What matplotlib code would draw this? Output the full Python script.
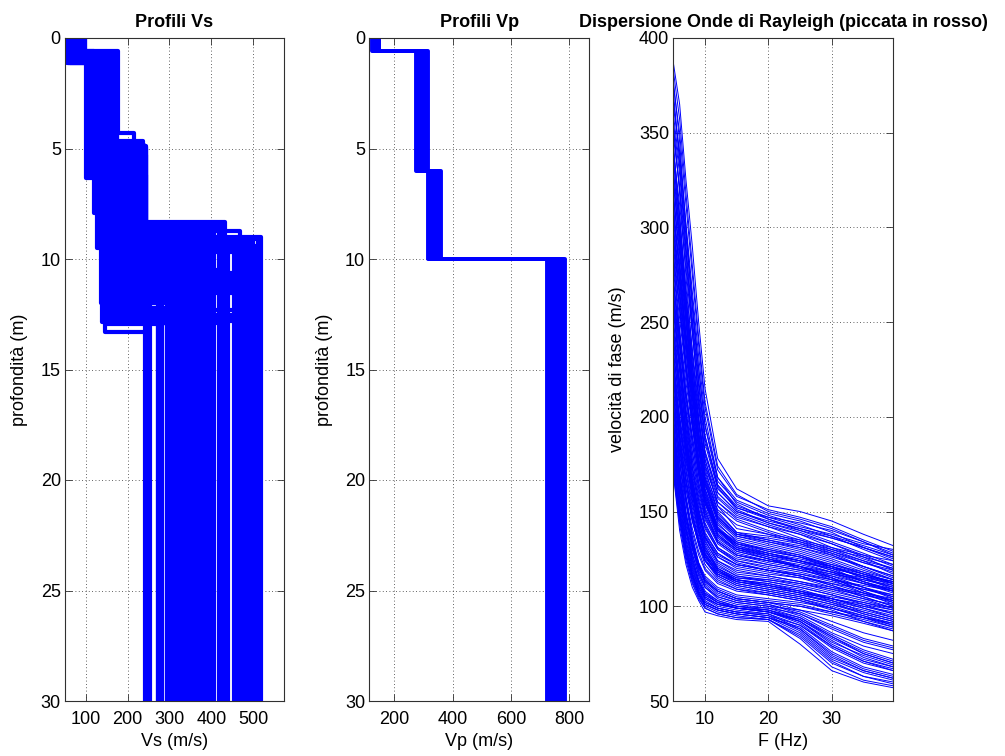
import matplotlib
matplotlib.use("Agg")
import matplotlib.pyplot as plt
import numpy as np

# ---------------- Vs profiles (m/s) and interface depths (m) ----------------
vs1 = [62, 95, 80, 88, 70, 58, 75, 90, 84, 66, 99, 78, 60, 93, 72, 86, 68, 97, 64, 82,
       74, 91, 57, 79, 87, 69, 95, 63, 77, 85, 71, 89, 61, 94, 76, 83, 67, 92, 73, 81,
       59, 96, 65, 90, 72, 85, 61, 93, 79, 68, 88, 56, 98, 74, 81, 66, 91, 70, 86, 63,
       95, 76, 83, 58, 92, 73, 80, 67, 89, 62,
       87, 64, 93, 71, 84, 60, 97, 78, 69, 90, 75, 82, 66, 94, 73, 86, 63, 91, 77, 81,
       70, 88, 65, 96, 77, 83, 60, 92, 74, 86, 68, 94, 79, 63, 90, 72]
z1 = [1.13, 0.60, 0.75, 0.70, 0.95, 1.10, 0.85, 0.65, 0.80, 1.00, 0.62, 0.90, 1.05, 0.68,
      0.88, 0.72, 0.98, 0.64, 1.08, 0.78, 0.92, 0.66, 1.12, 0.82, 0.74, 0.96, 0.63, 1.06,
      0.86, 0.76, 0.93, 0.71, 1.09, 0.67, 0.87, 0.79, 0.99, 0.69, 0.91, 0.81,
      1.02, 0.61, 0.97, 0.70, 0.89, 0.77, 1.04, 0.65, 0.83, 0.94, 0.73, 1.11, 0.62, 0.88,
      0.80, 0.97, 0.68, 0.92, 0.75, 1.03, 0.64, 0.86, 0.78, 1.10, 0.67, 0.90, 0.81, 0.95,
      0.72, 1.05,
      0.74, 1.00, 0.66, 0.92, 0.79, 1.07, 0.63, 0.84, 0.95, 0.70, 0.88, 0.80, 0.98, 0.65,
      0.90, 0.76, 1.04, 0.68, 0.85, 0.81,
      0.94, 0.73, 1.01, 0.62, 0.84, 0.78, 1.06, 0.67, 0.89, 0.75, 0.97, 0.65, 0.82, 1.04,
      0.70, 0.91]
vs2 = [101, 178, 172, 168, 110, 115, 125, 160, 150, 105, 175, 140, 130, 165, 120, 145, 135,
       170, 108, 155, 118, 162, 112, 148, 138, 128, 158, 122, 142, 132, 126, 166, 116, 174,
       132, 156, 124, 164, 136, 146,
       104, 120, 113, 127, 133, 139, 117, 144, 151, 123, 157, 109, 163, 129, 147, 119, 159,
       134, 153, 114, 169, 137, 149, 107, 161, 131, 143, 121, 154, 111,
       141, 117, 167, 126, 152, 112, 171, 139, 129, 159, 134, 146, 122, 165, 131, 149, 115,
       161, 137, 144,
       128, 150, 119, 170, 136, 147, 111, 163, 132, 153, 124, 167, 141, 116, 157, 134]
z2 = [6.35, 4.30, 4.65, 4.90, 6.00, 5.90, 5.50, 5.00, 5.20, 6.20, 4.95, 5.40, 5.80, 4.80,
      6.10, 5.30, 5.60, 4.70, 6.30, 5.10, 5.95, 4.95, 6.05, 5.25, 5.45, 5.70, 5.05, 5.85,
      5.35, 5.15, 5.65, 4.85, 6.15, 5.00, 5.55, 5.08, 5.75, 4.92, 5.50, 5.28,
      6.25, 5.90, 6.10, 5.70, 5.50, 5.40, 6.00, 5.30, 5.20, 5.80, 5.10, 6.30, 4.95, 5.60,
      5.25, 5.90, 5.05, 5.55, 5.15, 6.05, 4.75, 5.45, 5.20, 6.20, 5.00, 5.60, 5.35, 5.85,
      5.12, 6.10,
      5.30, 6.00, 4.90, 5.70, 5.20, 6.20, 4.85, 5.40, 5.65, 5.05, 5.55, 5.30, 5.80, 4.95,
      5.60, 5.22, 6.10, 5.02, 5.48, 5.32,
      5.70, 5.20, 5.90, 4.90, 5.50, 5.25, 6.15, 5.00, 5.60, 5.15, 5.75, 4.95, 5.40, 6.05,
      5.10, 5.55]
vs3 = [121, 216, 236, 244, 136, 142, 147, 230, 225, 128, 240, 155, 160, 210, 165, 170, 175,
       180, 185, 190, 195, 200, 205, 212, 218, 222, 228, 232, 238, 152, 168, 234, 178, 242,
       188, 198, 208, 220, 226, 214,
       140, 146, 150, 154, 158, 162, 166, 171, 176, 181, 186, 191, 196, 201, 206, 211, 215,
       219, 223, 227, 231, 235, 239, 243, 145, 157, 173, 193, 209, 237,
       203, 241, 229, 217, 233, 207, 239, 221, 213, 235, 226, 243, 219, 231, 224, 237, 211,
       228, 216, 222,
       236, 242, 231, 240, 228, 238, 233, 243, 226, 239, 230, 244, 235, 227, 241, 232]
z3 = [7.90, 9.30, 8.90, 8.34, 12.0, 12.8, 13.3, 8.75, 9.00, 9.50, 9.20, 12.7, 12.5, 9.40,
      8.80, 9.60, 8.50, 9.10, 8.70, 10.1, 8.60, 9.00, 8.45, 9.50, 8.80, 10.3, 9.80, 8.50,
      9.20, 8.70, 8.55, 8.60, 9.30, 9.40, 9.10, 9.50, 9.20, 9.70, 9.30, 9.60,
      12.85, 12.6, 12.95, 12.3, 12.8, 12.45, 12.9, 12.7, 12.2, 12.85, 12.5, 12.75, 12.35,
      12.9, 12.6, 12.8, 12.4, 12.85, 12.65, 12.9, 12.3, 12.7, 12.55, 12.8, 11.5, 11.0, 10.8,
      11.3, 10.6, 11.8,
      8.40, 8.45, 8.50, 8.42, 8.55, 8.48, 8.60, 8.44, 8.52, 8.58, 8.46, 8.40, 8.62, 8.50,
      8.56, 8.44, 9.05, 9.15, 9.25, 9.10,
      9.70, 9.90, 10.05, 10.2, 10.35, 10.5, 10.65, 10.8, 10.95, 11.1, 11.25, 11.4, 11.55,
      11.7, 11.85, 12.0]
vs4 = [242, 343, 383, 432, 295.3, 279, 250, 468, 517.2, 254.7, 500, 271.8, 282.2, 508, 300,
       303, 311, 319, 327, 335, 340, 351, 359, 367, 370, 375, 391, 395, 399, 405.2, 417.8,
       425, 438.7, 452.8, 460, 476, 480, 484, 492, 505,
       246, 252, 276, 280, 298, 307, 315, 323, 331, 338, 347, 355, 363, 379, 387, 400, 403,
       421, 428, 435, 458, 464, 472, 488, 496, 512, 250, 278, 310, 330,
       272, 277, 282, 298, 307, 315, 323, 331, 347, 355, 363, 379, 387, 400, 421, 428, 456,
       488, 496, 512,
       320, 345, 372, 390, 398, 425, 460, 470, 482, 498, 503, 510, 515, 335, 360, 385]

# ---------------- Vp profiles (m/s), interfaces at fixed depths ----------------
vp_depths = [0.6, 6.0, 10.0]
vp1 = [134, 146, 128, 141, 148, 137, 124, 144, 139, 147, 131, 142]
vp2 = [290, 307, 279, 300, 315, 286, 275, 311, 297, 304, 282, 293]
vp3 = [331, 353, 318, 344, 361, 327, 314, 357, 340, 348, 322, 335]
vp4 = [745, 773, 729, 762, 784, 740, 723, 778, 756, 767, 734, 751]

max_depth = 30

# ---------------- Rayleigh dispersion curves (phase velocity, m/s) ----------------
freq_hz = [5, 6, 7, 8, 9, 10, 12, 15, 20, 25, 30, 35, 39.7]

disp_fast = [
    [387, 365, 325, 290, 250, 215, 178, 162, 153, 150, 145, 138, 132],
    [375, 350, 312, 275, 238, 205, 172, 158, 151, 147, 142, 135, 129],
    [360, 332, 295, 258, 225, 195, 166, 155, 148, 143, 137, 130, 124],
    [340, 312, 278, 244, 212, 186, 162, 152, 146, 140, 134, 128, 122],
    [322, 295, 262, 232, 204, 180, 158, 149, 143, 138, 131, 125, 120],
    [305, 280, 250, 222, 196, 174, 155, 146, 140, 135, 129, 123, 118],
    [352, 320, 282, 245, 210, 182, 160, 150, 145, 141, 137, 132, 127],
    [290, 265, 238, 212, 188, 168, 151, 143, 138, 133, 127, 120, 114],
    [330, 300, 262, 228, 198, 175, 155, 147, 142, 138, 133, 127, 121],
    [368, 338, 298, 258, 220, 190, 164, 152, 147, 144, 140, 134, 128],
    [383, 357, 318, 280, 242, 208, 174, 159, 150, 146, 141, 134, 127],
    [364, 340, 302, 266, 232, 200, 168, 154, 146, 141, 136, 131, 126],
    [348, 322, 286, 250, 216, 188, 163, 151, 144, 139, 133, 126, 119],
    [335, 305, 268, 236, 206, 181, 160, 150, 144, 140, 136, 131, 126],
    [315, 288, 256, 226, 199, 177, 157, 148, 142, 136, 130, 124, 117],
    [378, 345, 300, 262, 226, 196, 168, 156, 149, 145, 139, 131, 125],
    [298, 272, 244, 217, 192, 171, 153, 145, 139, 134, 128, 121, 116],
    [356, 328, 290, 252, 218, 190, 164, 153, 147, 142, 138, 133, 130],
]
disp_upper_mid = [
    [330, 296, 258, 222, 192, 168, 148, 138, 134, 130, 125, 119, 114],
    [300, 272, 240, 210, 185, 164, 146, 137, 133, 129, 124, 118, 112],
    [355, 318, 274, 234, 200, 173, 150, 139, 135, 132, 128, 123, 119],
    [285, 258, 228, 201, 178, 159, 143, 135, 131, 127, 121, 115, 109],
    [318, 286, 250, 216, 188, 166, 147, 138, 136, 133, 129, 124, 120],
    [270, 245, 218, 194, 173, 156, 141, 134, 130, 126, 120, 113, 108],
    [342, 306, 265, 228, 196, 170, 149, 139, 137, 134, 130, 126, 122],
    [295, 266, 234, 206, 182, 162, 145, 136, 132, 128, 123, 117, 113],
    [372, 334, 288, 246, 208, 178, 153, 141, 138, 135, 131, 127, 124],
    [262, 238, 212, 190, 170, 154, 140, 133, 130, 127, 122, 117, 112],
    [308, 278, 244, 213, 186, 165, 146, 137, 134, 131, 126, 121, 116],
    [326, 292, 254, 219, 190, 167, 147, 138, 135, 131, 127, 121, 115],
]
disp_mid = [
    [280, 252, 222, 196, 174, 156, 140, 132, 128, 124, 119, 113, 108],
    [265, 238, 210, 186, 166, 150, 136, 129, 125, 122, 118, 113, 109],
    [310, 275, 238, 205, 178, 158, 140, 131, 126, 123, 120, 116, 112],
    [250, 225, 200, 178, 160, 146, 133, 126, 122, 119, 115, 110, 105],
    [295, 262, 228, 198, 174, 155, 138, 130, 126, 121, 115, 108, 102],
    [240, 215, 190, 170, 154, 141, 130, 124, 121, 118, 114, 110, 106],
    [345, 305, 262, 222, 190, 165, 144, 134, 129, 126, 122, 118, 114],
    [228, 205, 183, 164, 149, 137, 127, 122, 119, 116, 111, 105, 100],
    [272, 240, 208, 182, 162, 147, 134, 127, 123, 120, 117, 114, 111],
    [218, 196, 176, 159, 145, 134, 124, 119, 116, 113, 109, 104, 99],
    [318, 282, 243, 210, 182, 160, 141, 132, 127, 123, 118, 112, 107],
    [258, 228, 198, 174, 156, 142, 130, 123, 119, 116, 112, 107, 103],
    [235, 208, 183, 163, 148, 136, 126, 120, 117, 115, 112, 109, 106],
    [300, 265, 228, 196, 170, 151, 134, 127, 124, 121, 116, 110, 104],
    [285, 256, 225, 199, 177, 158, 141, 133, 129, 126, 121, 115, 110],
    [270, 242, 213, 189, 169, 152, 137, 130, 127, 124, 120, 116, 113],
    [325, 290, 250, 214, 184, 161, 141, 131, 127, 124, 121, 117, 113],
    [255, 229, 203, 181, 163, 148, 134, 127, 124, 121, 117, 112, 108],
    [290, 258, 225, 196, 172, 154, 137, 129, 125, 120, 114, 107, 101],
    [245, 219, 194, 173, 156, 143, 131, 125, 122, 119, 116, 112, 109],
    [338, 298, 255, 217, 186, 162, 142, 133, 128, 124, 119, 114, 110],
    [232, 209, 186, 167, 151, 139, 128, 122, 119, 116, 111, 106, 102],
    [278, 246, 213, 186, 165, 149, 135, 128, 124, 121, 118, 115, 112],
    [222, 200, 179, 161, 147, 136, 126, 121, 118, 115, 110, 105, 100],
    [305, 270, 234, 202, 176, 156, 138, 130, 125, 121, 115, 108, 103],
    [262, 232, 202, 177, 158, 144, 131, 124, 120, 117, 113, 109, 105],
    [238, 212, 187, 166, 150, 138, 128, 122, 119, 117, 114, 111, 108],
    [312, 278, 240, 206, 178, 157, 139, 131, 128, 125, 121, 116, 111],
]
disp_lower_mid = [
    [235, 206, 178, 156, 140, 129, 120, 115, 113, 110, 106, 101, 96],
    [248, 216, 185, 161, 143, 131, 121, 116, 114, 111, 107, 103, 99],
    [222, 196, 172, 152, 137, 127, 119, 114, 112, 109, 104, 99, 94],
    [275, 236, 198, 169, 149, 135, 123, 117, 115, 112, 108, 104, 101],
    [212, 188, 166, 148, 135, 126, 118, 114, 112, 108, 103, 97, 93],
    [258, 224, 191, 165, 146, 133, 122, 116, 113, 110, 106, 102, 98],
    [242, 212, 182, 159, 142, 130, 120, 115, 114, 112, 109, 106, 103],
    [228, 200, 174, 154, 139, 128, 119, 114, 111, 107, 102, 96, 92],
    [285, 244, 204, 173, 152, 137, 124, 118, 116, 113, 110, 107, 104],
    [205, 182, 162, 145, 133, 124, 117, 113, 111, 108, 104, 100, 96],
]
disp_slow = [
    [210, 185, 162, 145, 133, 124, 116, 111, 108, 105, 101, 96, 92],
    [200, 176, 155, 139, 127, 119, 112, 108, 106, 103, 98, 92, 87],
    [245, 212, 180, 156, 139, 127, 117, 112, 109, 106, 102, 98, 94],
    [190, 168, 148, 133, 122, 115, 109, 105, 103, 101, 97, 93, 89],
    [225, 195, 168, 148, 134, 124, 115, 110, 107, 104, 100, 95, 90],
    [182, 160, 141, 127, 117, 110, 105, 102, 100, 98, 95, 91, 87],
    [262, 225, 190, 162, 143, 130, 119, 113, 110, 107, 104, 100, 97],
    [196, 170, 149, 134, 123, 116, 110, 106, 104, 102, 99, 95, 91],
    [215, 190, 166, 148, 135, 126, 117, 112, 109, 106, 103, 99, 95],
    [205, 180, 158, 141, 129, 120, 113, 109, 107, 104, 99, 94, 89],
    [252, 218, 185, 159, 141, 128, 118, 113, 110, 107, 104, 101, 98],
    [186, 164, 145, 131, 120, 113, 108, 104, 102, 100, 96, 92, 88],
    [230, 199, 171, 150, 135, 125, 116, 111, 108, 105, 101, 97, 93],
    [192, 168, 147, 132, 121, 114, 108, 104, 102, 100, 97, 94, 91],
    [268, 230, 194, 165, 145, 132, 120, 114, 111, 108, 105, 102, 99],
    [220, 192, 165, 146, 132, 122, 114, 109, 106, 103, 99, 94, 90],
]
disp_drop = [
    [170, 140, 122, 110, 103, 97, 95, 93, 92, 80, 66, 60, 57],
    [178, 148, 128, 115, 106, 100, 97, 95, 93, 84, 70, 63, 60],
    [188, 158, 135, 120, 110, 104, 100, 98, 96, 88, 74, 66, 62],
    [175, 150, 130, 117, 108, 102, 99, 97, 95, 90, 78, 70, 66],
    [205, 170, 143, 126, 114, 107, 102, 99, 97, 92, 82, 73, 68],
    [185, 155, 133, 119, 110, 104, 101, 99, 98, 94, 85, 77, 72],
    [215, 178, 150, 131, 119, 111, 105, 102, 100, 95, 86, 79, 75],
    [172, 145, 126, 114, 106, 101, 98, 96, 94, 86, 72, 65, 61],
    [195, 163, 139, 123, 113, 106, 102, 100, 99, 96, 89, 82, 78],
    [230, 190, 158, 137, 123, 114, 108, 104, 102, 98, 92, 86, 82],
    [174, 146, 126, 113, 105, 99, 96, 94, 93, 83, 68, 61, 58],
    [182, 152, 131, 117, 108, 102, 99, 97, 95, 87, 73, 66, 62],
    [198, 165, 140, 124, 113, 106, 102, 99, 97, 91, 79, 71, 66],
    [176, 148, 128, 116, 107, 101, 98, 96, 94, 89, 76, 68, 64],
    [208, 172, 145, 128, 116, 108, 103, 100, 98, 93, 84, 75, 70],
    [190, 158, 135, 121, 111, 105, 101, 99, 97, 93, 83, 75, 70],
    [222, 184, 154, 134, 121, 112, 106, 103, 101, 96, 88, 81, 77],
    [180, 150, 129, 116, 107, 101, 98, 96, 94, 88, 75, 67, 63],
    [184, 154, 132, 118, 109, 103, 99, 97, 96, 90, 79, 71, 67],
    [200, 166, 141, 125, 114, 107, 103, 100, 98, 92, 80, 72, 68],
    [171, 143, 124, 112, 104, 99, 96, 94, 93, 85, 71, 63, 59],
    [212, 176, 148, 130, 118, 110, 104, 101, 99, 94, 84, 76, 71],
    [192, 160, 137, 122, 112, 105, 101, 99, 97, 92, 81, 74, 69],
    [226, 187, 156, 136, 122, 113, 107, 103, 101, 97, 90, 83, 79],
]

# ---------------- styling ----------------
plt.rcParams['font.family'] = ['Liberation Sans', 'DejaVu Sans']
BLUE = (0, 0, 1)
W, H = 1005, 756
fig = plt.figure(figsize=(W / 100, H / 100), dpi=100)

def px_axes(left, right, top=38, bottom=701):
    return fig.add_axes([left / W, (H - bottom) / H, (right - left) / W, (bottom - top) / H])

def style(ax):
    ax.grid(True, color='#303030', linestyle=(0, (1, 3)), linewidth=0.6)
    ax.set_axisbelow(True)
    ax.tick_params(direction='in', top=True, right=True, length=5, width=0.6,
                   labelsize=13, color='#303030')
    ax.tick_params(axis='x', pad=7)
    ax.tick_params(axis='y', pad=3)
    for s in ax.spines.values():
        s.set_color('#303030')
        s.set_linewidth(0.8)

def step_profile(layer_v, layer_z, bottom):
    xs, ys = [], []
    top = 0.0
    for i, v in enumerate(layer_v):
        zb = layer_z[i] if i < len(layer_z) else bottom
        xs += [v, v]
        ys += [top, zb]
        top = zb
    return xs, ys

# --- Vs panel ---
ax1 = px_axes(65, 284)
for i in range(len(vs1)):
    xs, ys = step_profile([vs1[i], vs2[i], vs3[i], vs4[i]], [z1[i], z2[i], z3[i]], max_depth)
    ax1.plot(xs, ys, color=BLUE, lw=3.0)
ax1.set_xlim(51, 573)
ax1.set_ylim(30, 0)
ax1.set_xticks([100, 200, 300, 400, 500])
ax1.set_yticks([0, 5, 10, 15, 20, 25, 30])
ax1.set_xlabel('Vs (m/s)', fontsize=13)
ax1.set_ylabel('profondità (m)', fontsize=13, labelpad=9)
ax1.set_title('Profili Vs', fontsize=13, fontweight='bold', pad=8)
style(ax1)

# --- Vp panel ---
ax2 = px_axes(369.3, 589.3)
for i in range(len(vp1)):
    xs, ys = step_profile([vp1[i], vp2[i], vp3[i], vp4[i]], vp_depths, max_depth)
    ax2.plot(xs, ys, color=BLUE, lw=2.8)
ax2.set_xlim(114, 868)
ax2.set_ylim(30, 0)
ax2.set_xticks([200, 400, 600, 800])
ax2.set_yticks([0, 5, 10, 15, 20, 25, 30])
ax2.set_xlabel('Vp (m/s)', fontsize=13)
ax2.set_ylabel('profondità (m)', fontsize=13, labelpad=9)
ax2.set_title('Profili Vp', fontsize=13, fontweight='bold', pad=8)
style(ax2)

# --- Dispersion panel ---
ax3 = px_axes(673.3, 893.3)
for group in (disp_fast, disp_upper_mid, disp_mid, disp_lower_mid, disp_slow, disp_drop):
    for curve in group:
        ax3.plot(freq_hz, curve, color=BLUE, lw=0.7)
ax3.set_xlim(5, 39.7)
ax3.set_ylim(50, 400)
ax3.set_xticks([10, 20, 30])
ax3.set_yticks([50, 100, 150, 200, 250, 300, 350, 400])
ax3.set_xlabel('F (Hz)', fontsize=13)
ax3.set_ylabel('velocità di fase (m/s)', fontsize=13, labelpad=9)
ax3.set_title('Dispersione Onde di Rayleigh (piccata in rosso)', fontsize=13,
              fontweight='bold', pad=8)
style(ax3)

fig.savefig('out.png', dpi=100)
